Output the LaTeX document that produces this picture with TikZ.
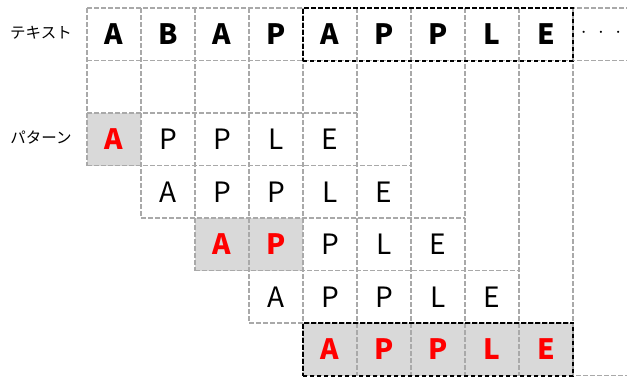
\documentclass[tikz,border=0pt]{standalone}
\usepackage{fontspec}
\newfontfamily\jp{Noto Sans CJK JP}
\usetikzlibrary{fit}
\definecolor{gline}{HTML}{A9A9A9}
\definecolor{gfill}{HTML}{D9D9D9}
\definecolor{hred}{HTML}{FF0000}
\tikzset{
  gdash/.style={draw=gline, line width=1.6pt, dash pattern=on 4.5pt off 2.5pt},
  bdash/.style={draw=black, line width=2pt, dash pattern=on 4.5pt off 2.5pt},
  cell/.style={minimum width=54pt, minimum height=52.5pt, inner sep=0pt, font=\jp\fontsize{28}{30}\selectfont},
  tcell/.style={cell, font=\jp\bfseries\fontsize{28}{30}\selectfont},
  pcell/.style={cell},
  hit/.style={cell, fill=gfill, text=hred, font=\jp\bfseries\fontsize{28}{30}\selectfont},
  lbl/.style={font=\jp\fontsize{15.5}{17}\selectfont, inner sep=0pt},
}
\begin{document}
\begin{tikzpicture}[x=1pt,y=-1pt]
\useasboundingbox (0,0) rectangle (627,376);
% text row
\foreach \ch [count=\i] in {A,B,A,P,A,P,P,L,E}{
  \node[tcell] (t\i) at ({87+27+54*(\i-1)},34.25) {\ch};
}
% pattern rows
\foreach \r in {1,...,4}{
  \foreach \ch [count=\j] in {A,P,P,L,E}{
    \node[pcell] (p\r\j) at ({87+27+54*(\r+\j-2)},{139.25+52.5*(\r-1)}) {\ch};
  }
}
% highlights
\node[hit] (h11) at (p11) {A};
\node[hit] (h31) at (p31) {A};
\node[hit] (h32) at (p32) {P};
\foreach \ch [count=\j] in {A,P,P,L,E}{
  \node[hit] (p5\j) at ({87+27+54*(5+\j-2)},349.25) {\ch};
}
% grid: horizontal lines
\foreach \y/\xa/\xb in {8/87/627, 60.5/87/627, 113/87/357, 165.5/87/411, 218/141/465, 270.5/195/519, 323/249/573, 375.5/303/627}{
  \draw[gdash] (\xa,\y) -- (\xb,\y);
}
% grid: vertical lines
\foreach \x/\yb in {87/165.5, 141/218, 195/270.5, 249/323, 303/375.5, 357/375.5, 411/375.5, 465/375.5, 519/375.5, 573/375.5}{
  \draw[gdash] (\x,8) -- (\x,\yb);
}
% black boxes
\node[bdash, fit=(t5)(t9), inner sep=0pt] (box1) {};
\node[bdash, fit=(p51)(p55), inner sep=0pt] (box2) {};
% labels
\node[lbl] (l1) at (41,33) {テキスト};
\node[lbl] (l2) at (41,138) {パターン};
\node[font=\fontsize{20}{22}\selectfont, inner sep=0pt] (dots) at (601,33) {$\cdot\mkern6mu\cdot\mkern6mu\cdot$};
\end{tikzpicture}
\end{document}
